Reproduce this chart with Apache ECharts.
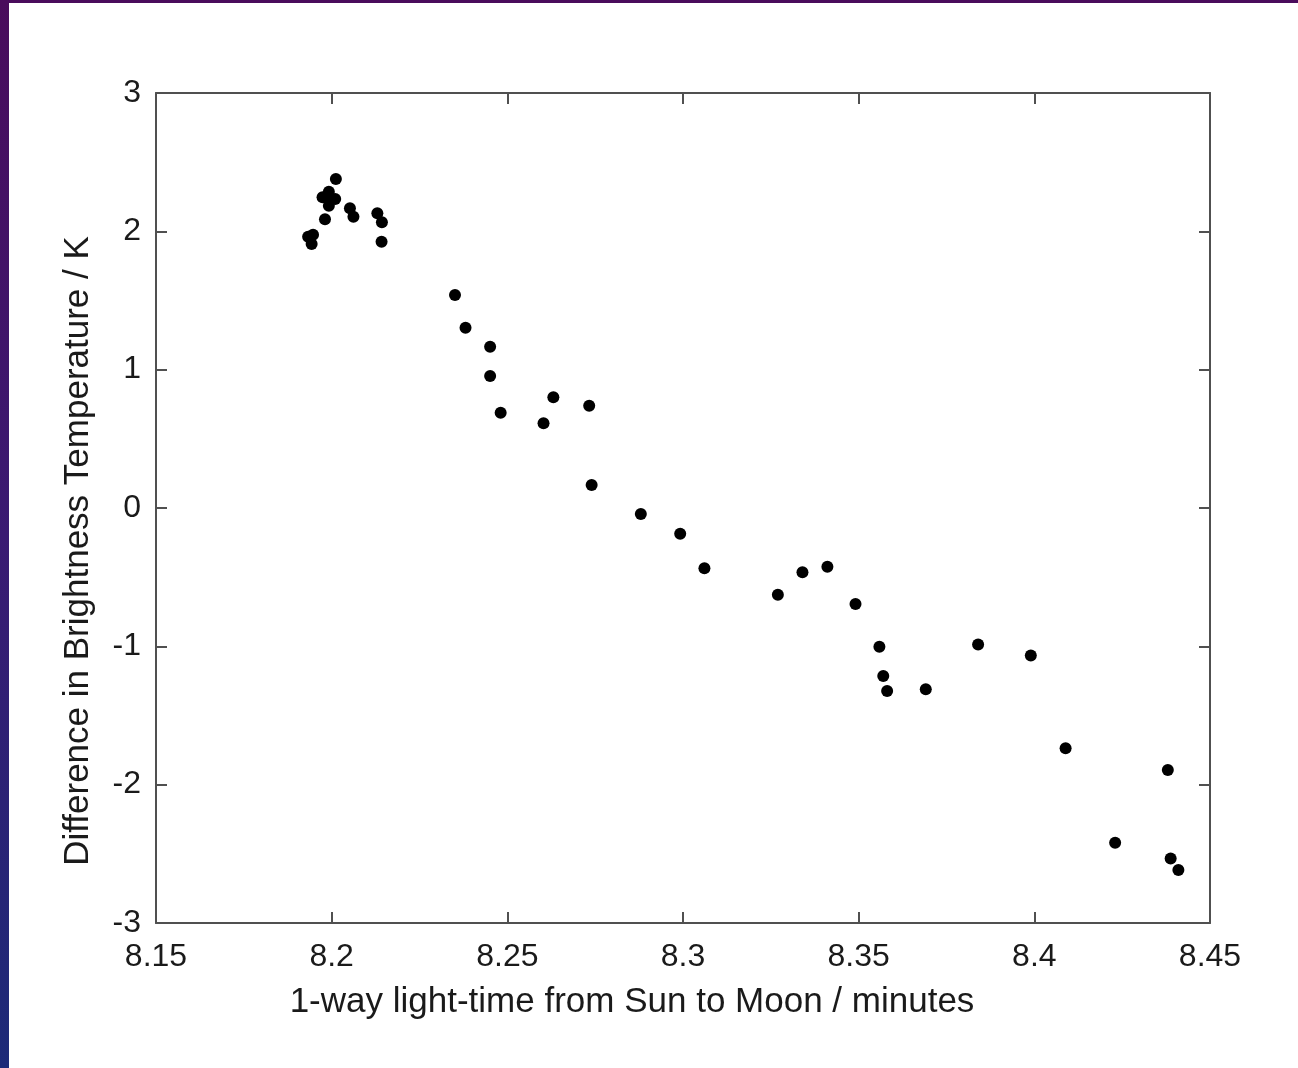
<!DOCTYPE html>
<html>
<head>
<meta charset="utf-8">
<script src="https://cdn.jsdelivr.net/npm/echarts@6/dist/echarts.min.js"></script>
<style>
html,body{margin:0;padding:0;background:#fff;}
#chart{width:1298px;height:1068px;}
</style>
</head>
<body>
<div id="chart"></div>
<script>
// 1-way light-time (minutes)
const lightTime = [
  8.2012, 8.1974, 8.1992, 8.2010, 8.1992, 8.1992, 8.1981, 8.2052, 8.2062, 8.2130,
  8.2143, 8.2142, 8.1933, 8.1943, 8.1947,
  8.2351, 8.2381, 8.2451, 8.2451, 8.2631, 8.2733, 8.2481, 8.2603,
  8.2740, 8.2880, 8.2992, 8.3061,
  8.3270, 8.3340, 8.3411, 8.3491, 8.3559, 8.3570, 8.3581, 8.3691,
  8.3840, 8.3990, 8.4089,
  8.4380, 8.4230, 8.4388, 8.4410
];
// Difference in brightness temperature (K)
const tempDiff = [
  2.378, 2.246, 2.287, 2.234, 2.185, 2.238, 2.087, 2.167, 2.106, 2.130,
  2.065, 1.925, 1.960, 1.908, 1.975,
  1.540, 1.303, 1.166, 0.954, 0.800, 0.739, 0.689, 0.612,
  0.166, -0.043, -0.186, -0.436,
  -0.627, -0.465, -0.424, -0.694, -1.003, -1.215, -1.323, -1.311,
  -0.986, -1.066, -1.737,
  -1.894, -2.420, -2.533, -2.617
];
const xName = '1-way light-time from Sun to Moon / minutes';
const yName = 'Difference in Brightness Temperature / K';

const points = lightTime.map((x, i) => [x, tempDiff[i]]);
const FONT = '"Liberation Sans", Arial, sans-serif';
const TXT = '#1a1a1a';
const lineStyle = {color: '#505050', width: 2};
const fmt = v => String(parseFloat(v.toFixed(2)));

const chart = echarts.init(document.getElementById('chart'));
chart.setOption({
  backgroundColor: '#ffffff',
  animation: false,
  graphic: [
    {type: 'rect', left: 0, top: 0, shape: {width: 1298, height: 3}, style: {fill: '#4a0c5c'}, z: 100},
    {type: 'rect', left: 0, top: 0, shape: {width: 9, height: 1068},
     style: {fill: new echarts.graphic.LinearGradient(0, 0, 0, 1, [
       {offset: 0, color: '#4a0c5c'}, {offset: 0.5, color: '#3a1a72'}, {offset: 1, color: '#1c2a78'}])}, z: 100}
  ],
  grid: {left: 156, top: 93, right: 88, bottom: 145},
  xAxis: [{
    type: 'value', min: 8.15, max: 8.45, interval: 0.05, position: 'bottom',
    name: xName, nameLocation: 'middle', nameGap: 62,
    nameTextStyle: {fontFamily: FONT, fontSize: 35, color: TXT, padding: [0, 102, 0, 0]},
    axisLine: {show: true, onZero: false, lineStyle: lineStyle},
    axisTick: {show: true, inside: true, length: 11, lineStyle: lineStyle},
    axisLabel: {fontFamily: FONT, fontSize: 32, color: TXT, margin: 18, formatter: fmt},
    splitLine: {show: false}
  }, {
    type: 'value', min: 8.15, max: 8.45, interval: 0.05, position: 'top',
    axisLine: {show: true, onZero: false, lineStyle: lineStyle},
    axisTick: {show: true, inside: true, length: 11, lineStyle: lineStyle},
    axisLabel: {show: false}, splitLine: {show: false}
  }],
  yAxis: [{
    type: 'value', min: -3, max: 3, interval: 1, position: 'left',
    name: yName, nameLocation: 'middle', nameGap: 60,
    nameTextStyle: {fontFamily: FONT, fontSize: 35, color: TXT, padding: [0, 86, 0, 0]},
    axisLine: {show: true, onZero: false, lineStyle: lineStyle},
    axisTick: {show: true, inside: true, length: 11, lineStyle: lineStyle},
    axisLabel: {fontFamily: FONT, fontSize: 32, color: TXT, margin: 15},
    splitLine: {show: false}
  }, {
    type: 'value', min: -3, max: 3, interval: 1, position: 'right',
    axisLine: {show: true, onZero: false, lineStyle: lineStyle},
    axisTick: {show: true, inside: true, length: 11, lineStyle: lineStyle},
    axisLabel: {show: false}, splitLine: {show: false}
  }],
  series: [{
    type: 'scatter', xAxisIndex: 0, yAxisIndex: 0,
    data: points, symbol: 'circle', symbolSize: 12,
    itemStyle: {color: '#000', opacity: 1}
  }]
});
</script>
</body>
</html>
